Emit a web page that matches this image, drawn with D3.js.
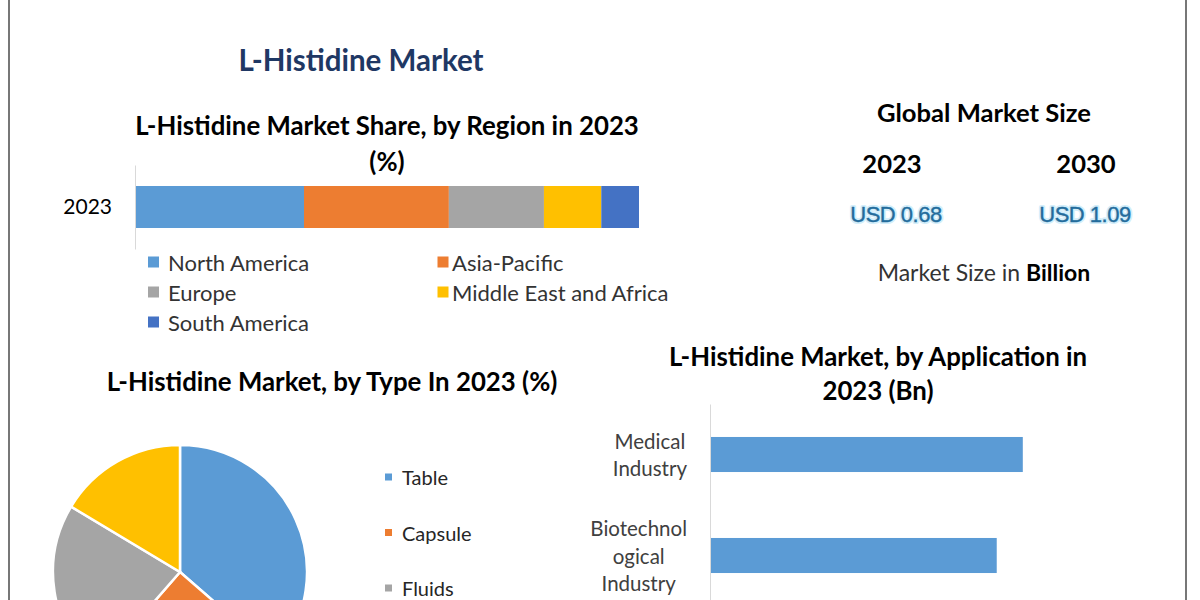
<!DOCTYPE html>
<html>
<head>
<meta charset="utf-8">
<script src="https://cdnjs.cloudflare.com/ajax/libs/d3/7.8.5/d3.min.js"></script>
<style>
  body { margin: 0; background: #fff; }
  text { font-family: Lato, 'Open Sans', sans-serif; }
</style>
</head>
<body>
<script>
// region share, 2023 (%)
const regionNames = ['North America', 'Asia-Pacific', 'Europe', 'Middle East and Africa', 'South America'];
const regionShares = [33.4, 28.8, 18.9, 11.4, 7.5];
const regionYears = ['2023'];

// type share, 2023 (%) - fourth slice label is cut off in the picture
const typeNames = ['Table', 'Capsule', 'Fluids', 'Powder'];
const typeShares = [36.4, 25.0, 22.2, 16.4];

// application, 2023 (Bn)
const appNames = ['Medical Industry', 'Biotechnological Industry'];
const appTickLines = [['Medical', 'Industry'], ['Biotechnol', 'ogical', 'Industry']];
const appValues = [0.24, 0.22];

// global market size (USD Bn)
const marketYears = ['2023', '2030'];
const marketValues = [0.68, 1.09];

const colors = ['#5B9BD5', '#ED7D31', '#A5A5A5', '#FFC000', '#4472C4'];

const w = 1200, h = 600;
const svg = d3.select('body').append('svg')
    .attr('width', w)
    .attr('height', h);

// frame lines
svg.selectAll('line.frame')
  .data([9, 1186])
  .enter()
  .append('line')
    .attr('class', 'frame')
    .attr('x1', d => d).attr('x2', d => d)
    .attr('y1', 0).attr('y2', h)
    .attr('stroke', '#4a4a4a')
    .attr('stroke-width', 1.5);

function heading(x, y, str, size, fill) {
  return svg.append('text')
      .attr('x', x).attr('y', y)
      .attr('text-anchor', 'middle')
      .attr('dominant-baseline', 'central')
      .attr('font-size', size)
      .attr('font-weight', 'bold')
      .attr('fill', fill || '#000')
      .text(str);
}

heading(361, 59, 'L-Histidine Market', 29.5, '#1F3864');

// ---- region stacked bar ----
heading(387, 125, 'L-Histidine Market Share, by Region in 2023', 25.8);
heading(387, 161, '(%)', 25.8);

const rx = d3.scaleLinear().domain([0, 100]).range([136, 639]);
const ry = d3.scaleBand().domain(regionYears).range([165, 249])
    .paddingInner(0.5).paddingOuter(0.25);

const regionRow = {year: '2023'};
regionNames.forEach((n, i) => { regionRow[n] = regionShares[i]; });
const regionStack = d3.stack().keys(regionNames)([regionRow]);

svg.append('g')
  .selectAll('rect')
  .data(regionStack)
  .enter()
  .append('rect')
    .attr('x', d => rx(d[0][0]))
    .attr('y', d => ry(d[0].data.year))
    .attr('width', d => rx(d[0][1]) - rx(d[0][0]))
    .attr('height', ry.bandwidth())
    .attr('fill', (d, i) => colors[i]);

const ryAxis = svg.append('g')
    .attr('transform', 'translate(135,0)')
    .call(d3.axisLeft(ry).tickSize(0).tickSizeOuter(0).tickPadding(23));
ryAxis.select('.domain').attr('stroke', '#d9d9d9');
ryAxis.selectAll('text')
    .attr('font-family', 'Lato, sans-serif')
    .attr('font-size', 21)
    .attr('fill', '#000');

const rLeg = svg.append('g')
  .selectAll('g')
  .data(regionNames)
  .enter()
  .append('g')
    .attr('transform', (d, i) => 'translate(' + (i % 2 ? 437.5 : 148) + ',' + (262 + Math.floor(i / 2) * 30) + ')');
rLeg.append('rect')
    .attr('x', 0).attr('y', -5.5)
    .attr('width', 11).attr('height', 11)
    .attr('fill', (d, i) => colors[i]);
rLeg.append('text')
    .attr('x', (d, i) => i % 2 ? 14.5 : 20)
    .attr('dominant-baseline', 'central')
    .attr('font-size', 22)
    .attr('fill', '#333')
    .text(d => d);

// ---- global market size ----
heading(984, 112, 'Global Market Size', 25.6);
const mx = d3.scalePoint().domain(marketYears).range([892, 1086]);
svg.selectAll('text.myear')
  .data(marketYears)
  .enter()
  .append('text')
    .attr('class', 'myear')
    .attr('x', d => mx(d)).attr('y', 163)
    .attr('text-anchor', 'middle')
    .attr('dominant-baseline', 'central')
    .attr('font-size', 25.6)
    .attr('font-weight', 'bold')
    .text(d => d);
[['#d3eefa', 4], ['#236c9c', 0.4]].forEach(([c, sw]) => {
  svg.selectAll(null)
    .data(marketValues)
    .enter()
    .append('text')
      .attr('x', (d, i) => mx(marketYears[i]) + (i ? -1 : 4))
      .attr('y', 214)
      .attr('text-anchor', 'middle')
      .attr('dominant-baseline', 'central')
      .style('font-family', "'Liberation Sans', Arial, sans-serif")
      .attr('font-size', 22)
      .attr('letter-spacing', -0.5)
      .attr('fill', c)
      .attr('stroke', c)
      .attr('stroke-width', sw)
      .attr('stroke-linejoin', 'round')
      .text(d => 'USD ' + d3.format('.2f')(d));
});
const ms = svg.append('text')
    .attr('x', 984).attr('y', 272)
    .attr('text-anchor', 'middle')
    .attr('dominant-baseline', 'central')
    .attr('font-size', 23)
    .attr('fill', '#333');
ms.append('tspan').text('Market Size in ');
ms.append('tspan').attr('font-weight', 'bold').attr('fill', '#000').text('Billion');

// ---- type pie ----
heading(332, 381, 'L-Histidine Market, by Type In 2023 (%)', 25.8);
const pie = d3.pie().sort(null)(typeShares);
const arc = d3.arc().innerRadius(0).outerRadius(127);
svg.append('g')
    .attr('transform', 'translate(180,572)')
  .selectAll('path')
  .data(pie)
  .enter()
  .append('path')
    .attr('d', arc)
    .attr('fill', (d, i) => colors[i])
    .attr('stroke', '#fff')
    .attr('stroke-width', 2.5);

// only the legend rows that fit in the picture
const tLeg = svg.append('g')
  .selectAll('g')
  .data(typeNames.slice(0, 3))
  .enter()
  .append('g')
    .attr('transform', (d, i) => 'translate(385,' + (477 + i * 55.5) + ')');
tLeg.append('rect')
    .attr('x', 0).attr('y', -3.5)
    .attr('width', 7).attr('height', 7)
    .attr('fill', (d, i) => colors[i]);
tLeg.append('text')
    .attr('x', 17)
    .attr('dominant-baseline', 'central')
    .attr('font-size', 20)
    .attr('fill', '#262626')
    .text(d => d);

// ---- application bars ----
heading(878, 356, 'L-Histidine Market, by Application in', 25.8);
heading(878, 390, '2023 (Bn)', 25.8);

const ax = d3.scaleLinear().domain([0, 0.3]).range([710, 1101]);
const ay = d3.scaleBand().domain(appNames).range([404, 606])
    .paddingInner(0.653).paddingOuter(0.3265);

svg.append('g')
  .selectAll('rect')
  .data(appValues)
  .enter()
  .append('rect')
    .attr('x', ax(0))
    .attr('y', (d, i) => ay(appNames[i]))
    .attr('width', d => ax(d) - ax(0))
    .attr('height', ay.bandwidth())
    .attr('fill', colors[0]);

const ayAxis = svg.append('g')
    .attr('transform', 'translate(710,0)')
    .call(d3.axisLeft(ay).tickSize(0).tickSizeOuter(0).tickFormat(''));
ayAxis.select('.domain').attr('stroke', '#d9d9d9');

appNames.forEach((name, i) => {
  const lines = appTickLines[i];
  const cy = ay(name) + ay.bandwidth() / 2;
  const g = svg.append('g');
  const t = g.selectAll('text')
    .data(lines)
    .enter()
    .append('text')
      .attr('y', (d, j) => cy + (j - (lines.length - 1) / 2) * 27.5)
      .attr('text-anchor', 'middle')
      .attr('dominant-baseline', 'central')
      .attr('font-size', 20.5)
      .attr('fill', '#404040')
      .text(d => d);
  const maxW = d3.max(t.nodes(), n => n.getComputedTextLength());
  t.attr('x', 687 - maxW / 2);
});
</script>
</body>
</html>
